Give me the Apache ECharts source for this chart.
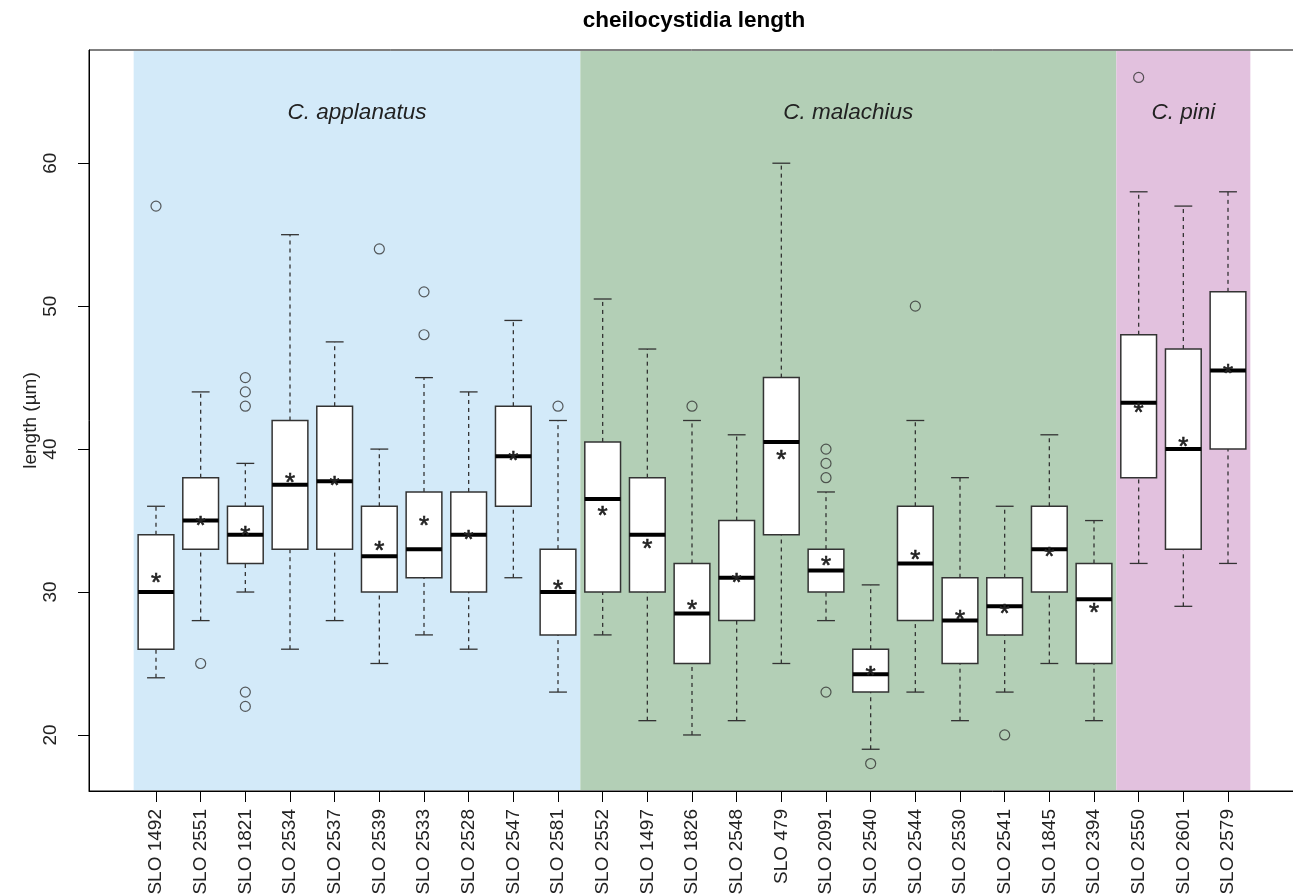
<!DOCTYPE html>
<html>
<head>
<meta charset="utf-8">
<title>cheilocystidia length</title>
<script src="https://cdn.jsdelivr.net/npm/echarts@6/dist/echarts.min.js"></script>
<style>
  html, body { margin: 0; padding: 0; background: #fff; }
  #chart { width: 1293px; height: 895px; }
</style>
</head>
<body>
<div id="chart"></div>
<script>
// specimens (x categories)
var specimens = ['SLO 1492', 'SLO 2551', 'SLO 1821', 'SLO 2534', 'SLO 2537', 'SLO 2539', 'SLO 2533', 'SLO 2528', 'SLO 2547', 'SLO 2581',
  'SLO 2552', 'SLO 1497', 'SLO 1826', 'SLO 2548', 'SLO 479', 'SLO 2091', 'SLO 2540', 'SLO 2544', 'SLO 2530', 'SLO 2541', 'SLO 1845', 'SLO 2394',
  'SLO 2550', 'SLO 2601', 'SLO 2579'];

// box statistics
var lowerWhisker = [24, 28, 30, 26, 28, 25, 27, 26, 31, 23, 27, 21, 20, 21, 25, 28, 19, 23, 21, 23, 25, 21, 32, 29, 32];
var q1 = [26, 33, 32, 33, 33, 30, 31, 30, 36, 27, 30, 30, 25, 28, 34, 30, 23, 28, 25, 27, 30, 25, 38, 33, 40];
var median = [30, 35, 34, 37.5, 37.75, 32.5, 33, 34, 39.5, 30, 36.5, 34, 28.5, 31, 40.5, 31.5, 24.25, 32, 28, 29, 33, 29.5, 43.25, 40, 45.5];
var q3 = [34, 38, 36, 42, 43, 36, 37, 37, 43, 33, 40.5, 38, 32, 35, 45, 33, 26, 36, 31, 31, 36, 32, 48, 47, 51];
var upperWhisker = [36, 44, 39, 55, 47.5, 40, 45, 44, 49, 42, 50.5, 47, 42, 41, 60, 37, 30.5, 42, 38, 36, 41, 35, 58, 57, 58];
var means = [31, 35, 34.3, 38, 37.8, 33.2, 35, 34, 39.5, 30.5, 35.7, 33.4, 29.1, 31, 39.6, 32.2, 24.5, 32.6, 28.4, 28.8, 32.8, 28.9, 42.9, 40.5, 45.6];
var outliers = [[57], [25], [45, 44, 43, 23, 22], [], [], [54], [51, 48], [], [], [43],
  [], [], [43], [], [], [40, 39, 38, 23], [18], [50], [], [20], [], [],
  [66], [], []];

// species groups
var species = ['C. applanatus', 'C. malachius', 'C. pini'];
var speciesFirst = [0, 10, 22];
var speciesLast = [9, 21, 24];
var speciesColors = ['#d3eaf9', '#b3cfb6', '#e2c1de'];
var speciesLabelY = 63.5;

var yTicks = [20, 30, 40, 50, 60];
var yMin = 16.08, yMax = 67.92;

var FONT = 'Liberation Sans, Arial, Helvetica, sans-serif';

// 两端留空类目，模拟 R 的 4% 扩展
var axisCats = [''].concat(specimens, ['']);

var boxData = [];
var meanData = [];
var outlierData = [];
for (var i = 0; i < specimens.length; i++) {
  boxData.push([i + 1, lowerWhisker[i], q1[i], median[i], q3[i], upperWhisker[i]]);
  meanData.push([i + 1, means[i]]);
  for (var k = 0; k < outliers[i].length; k++) {
    outlierData.push([i + 1, outliers[i][k]]);
  }
}
var bandData = [];
for (var s = 0; s < species.length; s++) {
  bandData.push([speciesFirst[s] + 1, speciesLast[s] + 1, speciesLabelY]);
}

function renderBand(params, api) {
  var a = api.coord([api.value(0), yMin]);
  var b = api.coord([api.value(1), yMin]);
  var band = api.size([1, 0])[0];
  var cs = params.coordSys;
  var x0 = a[0] - band / 2;
  var x1 = b[0] + band / 2;
  var ty = api.coord([api.value(0), api.value(2)])[1];
  return {
    type: 'group',
    children: [
      {
        type: 'rect',
        shape: { x: x0, y: cs.y + 1, width: x1 - x0, height: cs.height - 2 },
        style: { fill: speciesColors[params.dataIndex] }
      },
      {
        type: 'text',
        x: (x0 + x1) / 2,
        y: ty,
        style: {
          text: species[params.dataIndex],
          fontFamily: FONT,
          fontStyle: 'italic',
          fontSize: 22.5,
          fill: '#222',
          align: 'center',
          verticalAlign: 'middle'
        }
      }
    ]
  };
}

function renderBox(params, api) {
  var x = api.value(0);
  var pLow = api.coord([x, api.value(1)]);
  var pQ1 = api.coord([x, api.value(2)]);
  var pMed = api.coord([x, api.value(3)]);
  var pQ3 = api.coord([x, api.value(4)]);
  var pHigh = api.coord([x, api.value(5)]);
  var band = api.size([1, 0])[0];
  var hb = band * 0.4;
  var hc = band * 0.2;
  var cx = pMed[0];
  var edge = '#333';
  return {
    type: 'group',
    children: [
      // 须线（虚线）
      { type: 'line', shape: { x1: cx, y1: pLow[1], x2: cx, y2: pQ1[1] }, style: { stroke: edge, lineWidth: 1.3, lineDash: [4, 4] } },
      { type: 'line', shape: { x1: cx, y1: pQ3[1], x2: cx, y2: pHigh[1] }, style: { stroke: edge, lineWidth: 1.3, lineDash: [4, 4] } },
      // 端线
      { type: 'line', shape: { x1: cx - hc, y1: pLow[1], x2: cx + hc, y2: pLow[1] }, style: { stroke: edge, lineWidth: 1.3 } },
      { type: 'line', shape: { x1: cx - hc, y1: pHigh[1], x2: cx + hc, y2: pHigh[1] }, style: { stroke: edge, lineWidth: 1.3 } },
      // 箱体
      { type: 'rect', shape: { x: cx - hb, y: pQ3[1], width: hb * 2, height: pQ1[1] - pQ3[1] }, style: { fill: '#fff', stroke: edge, lineWidth: 1.5 } },
      // 中位数
      { type: 'line', shape: { x1: cx - hb, y1: pMed[1], x2: cx + hb, y2: pMed[1] }, style: { stroke: '#000', lineWidth: 4 } }
    ]
  };
}

function renderMean(params, api) {
  var p = api.coord([api.value(0), api.value(1)]);
  return {
    type: 'text',
    x: p[0],
    y: p[1] + 6,
    style: {
      text: '*',
      fontFamily: FONT,
      fontSize: 26,
      fill: '#222',
      stroke: '#222',
      lineWidth: 0.6,
      align: 'center',
      verticalAlign: 'middle'
    }
  };
}

var chart = echarts.init(document.getElementById('chart'));
var option = {
  animation: false,
  graphic: [
    {
      type: 'text',
      x: 694,
      y: 21,
      style: {
        text: 'cheilocystidia length',
        fontFamily: FONT,
        fontWeight: 'bold',
        fontSize: 22.5,
        fill: '#000',
        align: 'center',
        verticalAlign: 'middle'
      }
    }
  ],
  grid: {
    left: 89,
    top: 50,
    width: 1206,
    bottom: 104,
    outerBoundsMode: 'none',
    containLabel: false,
    show: true,
    borderColor: '#000',
    borderWidth: 1,
    backgroundColor: 'transparent'
  },
  xAxis: {
    type: 'category',
    data: axisCats,
    boundaryGap: true,
    axisLine: { show: true, lineStyle: { color: '#000' } },
    axisTick: {
      show: true,
      alignWithLabel: true,
      length: 11,
      lineStyle: { color: '#000' },
      interval: function (index) { return index > 0 && index < axisCats.length - 1; }
    },
    axisLabel: {
      interval: 0,
      rotate: 90,
      margin: 18,
      fontFamily: FONT,
      fontSize: 19,
      color: '#222'
    },
    splitLine: { show: false }
  },
  yAxis: {
    type: 'value',
    min: yMin,
    max: yMax,
    name: 'length (µm)',
    nameLocation: 'middle',
    nameRotate: 90,
    nameGap: 49,
    nameMoveOverlap: false,
    nameTextStyle: { fontFamily: FONT, fontSize: 19, color: '#222' },
    axisLine: { show: true, lineStyle: { color: '#000' } },
    axisTick: { show: true, length: 11, lineStyle: { color: '#000' }, customValues: yTicks },
    axisLabel: {
      rotate: 90,
      margin: 29,
      fontFamily: FONT,
      fontSize: 19,
      color: '#222',
      customValues: yTicks
    },
    splitLine: { show: false }
  },
  series: [
    {
      type: 'custom',
      name: 'species',
      renderItem: renderBand,
      data: bandData,
      z: 1,
      silent: true
    },
    {
      type: 'custom',
      name: 'boxes',
      renderItem: renderBox,
      encode: { x: 0, y: [1, 2, 3, 4, 5] },
      data: boxData,
      z: 3
    },
    {
      type: 'scatter',
      name: 'outliers',
      data: outlierData,
      symbol: 'circle',
      symbolSize: 10,
      itemStyle: { color: 'rgba(0,0,0,0)', borderColor: '#333', borderWidth: 1.2 },
      z: 4
    },
    {
      type: 'custom',
      name: 'mean',
      renderItem: renderMean,
      data: meanData,
      z: 5
    }
  ]
};
chart.setOption(option);
</script>
</body>
</html>
